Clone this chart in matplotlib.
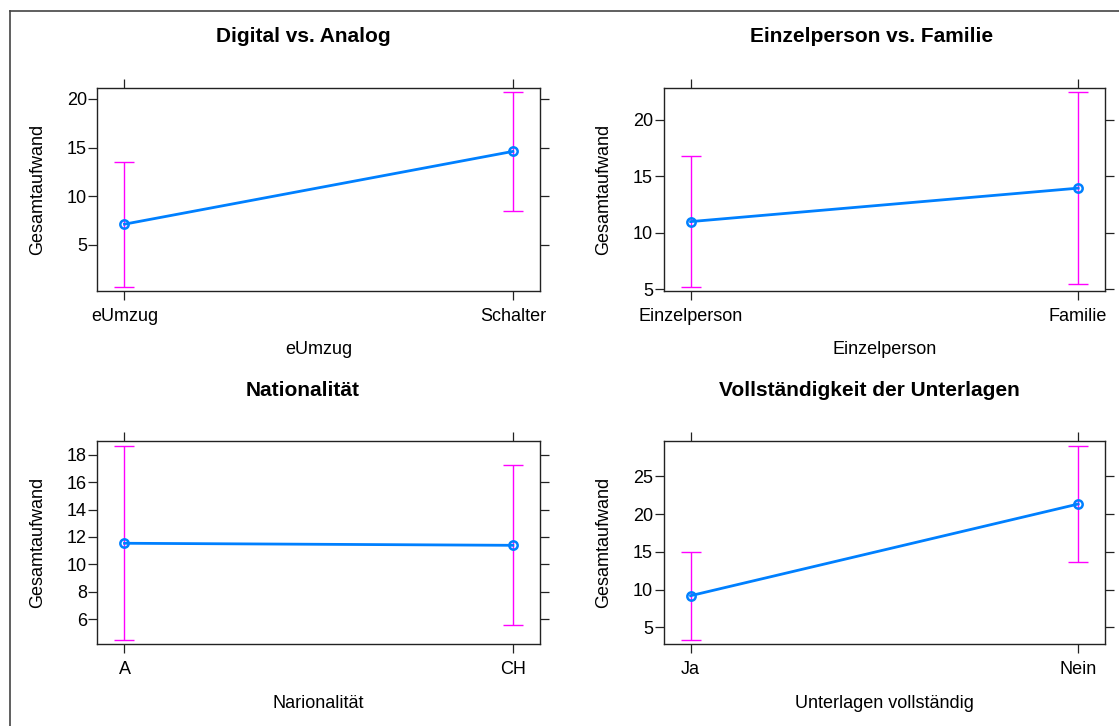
import matplotlib
matplotlib.use("Agg")
import matplotlib.pyplot as plt
from matplotlib.lines import Line2D

plt.rcParams['font.family'] = ['Liberation Sans', 'DejaVu Sans']

# ---- data ----
titles = ["Digital vs. Analog", "Einzelperson vs. Familie",
          "Nationalität", "Vollständigkeit der Unterlagen"]
xlabels = ["eUmzug", "Einzelperson", "Narionalität", "Unterlagen vollständig"]
ylabel = "Gesamtaufwand"
categories = [["eUmzug", "Schalter"], ["Einzelperson", "Familie"],
              ["A", "CH"], ["Ja", "Nein"]]
fit = [[7.13, 14.61], [10.99, 13.95], [11.54, 11.39], [9.19, 21.33]]
lower = [[0.71, 8.50], [5.23, 5.50], [4.46, 5.54], [3.36, 13.69]]
upper = [[13.52, 20.68], [16.78, 22.47], [18.66, 17.24], [15.01, 29.06]]
yticks = [[5, 10, 15, 20], [5, 10, 15, 20], [6, 8, 10, 12, 14, 16, 18],
          [5, 10, 15, 20, 25]]
ylims = [(0.26, 21.13), (4.85, 22.81), (4.15, 19.02), (2.75, 29.68)]

W, H = 1119, 726
fig = plt.figure(figsize=(W / 100, H / 100), dpi=100)

# panel boxes in pixels: (left, top, right, bottom)
boxes = [(97.3, 88, 540, 291), (663.5, 88, 1105.3, 291),
         (97.3, 441, 540, 644.3), (663.5, 441, 1105.3, 644.3)]
title_pos = [(303, 36.5), (872, 36.5), (303, 390), (869, 390)]

blue = '#0080ff'
mag = '#ff00ff'

for i in range(4):
    l, t, r, b = boxes[i]
    ax = fig.add_axes([l / W, 1 - b / H, (r - l) / W, (b - t) / H])
    xs = [1, 2]
    ax.errorbar(xs, fit[i],
                yerr=[[f - lo for f, lo in zip(fit[i], lower[i])],
                      [u - f for f, u in zip(fit[i], upper[i])]],
                fmt='none', ecolor=mag, elinewidth=1.0, capsize=7,
                capthick=1.0, zorder=2)
    ax.plot(xs, fit[i], color=blue, lw=2.0, marker='o', markersize=6,
            markerfacecolor='none', markeredgecolor=blue,
            markeredgewidth=1.8, zorder=3)
    ax.set_xlim(0.93, 2.07)
    ax.set_ylim(*ylims[i])
    ax.set_xticks(xs)
    ax.set_xticklabels(categories[i])
    ax.set_yticks(yticks[i])
    ax.tick_params(axis='both', which='both', direction='out', length=6.5,
                   width=0.9, labelsize=13, top=True, right=True,
                   labeltop=False, labelright=False, color='#222222')
    ax.tick_params(axis='x', pad=5.5)
    ax.tick_params(axis='y', pad=1)
    for s in ax.spines.values():
        s.set_linewidth(1.0)
        s.set_color('#222222')
    ax.set_xlabel(xlabels[i], fontsize=13, labelpad=12)
    ax.set_ylabel(ylabel, fontsize=13, labelpad=15)
    tx, ty = title_pos[i]
    fig.text(tx / W, 1 - ty / H, titles[i], fontsize=15, fontweight='bold',
             ha='center', va='center')

# outer border (left and top edges)
fig.add_artist(Line2D([10 / W, 10 / W], [0, 1 - 11 / H],
                      transform=fig.transFigure, color='#444444', lw=1.2))
fig.add_artist(Line2D([10 / W, 1], [1 - 11 / H, 1 - 11 / H],
                      transform=fig.transFigure, color='#444444', lw=1.2))

fig.savefig("out.png", dpi=100)
